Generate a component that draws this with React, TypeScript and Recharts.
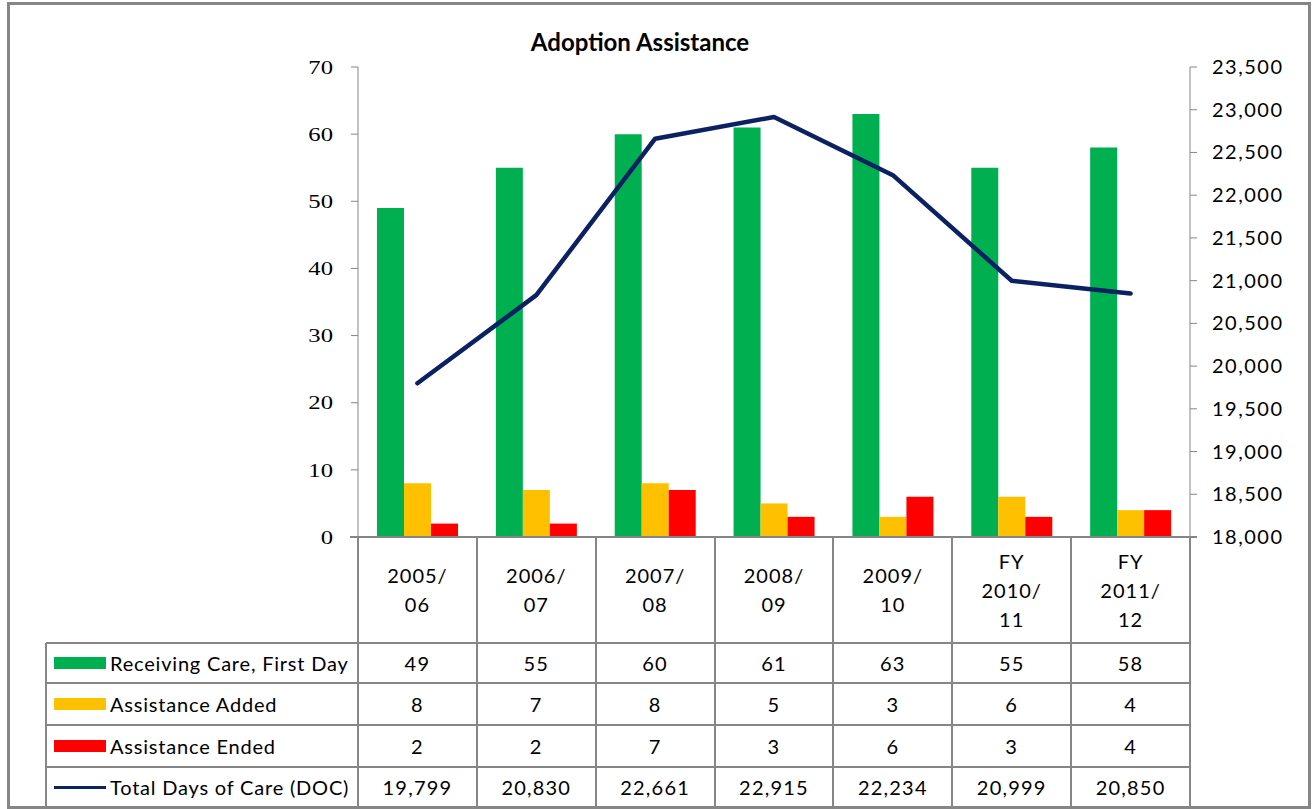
import { ComposedChart, Bar, Line, XAxis, YAxis } from 'recharts';

const categories = ['2005/\n06', '2006/\n07', '2007/\n08', '2008/\n09', '2009/\n10', 'FY\n2010/\n11', 'FY\n2011/\n12'];
const receivingCare = [49, 55, 60, 61, 63, 55, 58];
const assistanceAdded = [8, 7, 8, 5, 3, 6, 4];
const assistanceEnded = [2, 2, 7, 3, 6, 3, 4];
const totalDaysOfCare = [19799, 20830, 22661, 22915, 22234, 20999, 20850];
const leftTicks = [0, 10, 20, 30, 40, 50, 60, 70];
const rightTicks = [18000, 18500, 19000, 19500, 20000, 20500, 21000, 21500, 22000, 22500, 23000, 23500];

const GREEN = '#00B050';
const YELLOW = '#FFC000';
const RED = '#FF0000';
const NAVY = '#0C2161';
const GRID = '#868686';
const FONT = "Lato, 'Open Sans', sans-serif";

const data = categories.map((name, i) => ({
  name,
  care: receivingCare[i],
  added: assistanceAdded[i],
  ended: assistanceEnded[i],
  doc: totalDaysOfCare[i],
}));

const series = [
  { label: 'Receiving Care, First Day', color: GREEN, kind: 'bar', values: receivingCare },
  { label: 'Assistance Added', color: YELLOW, kind: 'bar', values: assistanceAdded },
  { label: 'Assistance Ended', color: RED, kind: 'bar', values: assistanceEnded },
  { label: 'Total Days of Care (DOC)', color: NAVY, kind: 'line', values: totalDaysOfCare },
];

// plot box
const PLOT_L = 358;
const PLOT_R = 1190;
const PLOT_T = 67;
const PLOT_B = 537;
const COL_W = (PLOT_R - PLOT_L) / categories.length;
const TABLE_L = 46;
const HEADER_B = 643;
const ROW_LINES = [643, 683, 725, 767, 807];

const fmt = (v: number) => v.toLocaleString('en-US');

const LeftTick = ({ x, y, payload }: any) => (
  <text
    transform={`translate(${x},${y}) scale(1.3,1)`}
    dy="0.35em"
    textAnchor="end"
    fontFamily="'Liberation Serif', serif"
    fontSize={19}
    fill="#000"
  >
    {payload.value}
  </text>
);

const RightTick = ({ x, y, payload }: any) => (
  <text x={x} y={y} dy="0.35em" textAnchor="start" fontFamily={FONT} fontSize={20} letterSpacing={1.5} fill="#000">
    {fmt(payload.value)}
  </text>
);

const hLine = (y: number, x1: number, x2: number, key: string) => (
  <div key={key} style={{ position: 'absolute', left: x1, top: y - 1, width: x2 - x1, height: 2, background: GRID }} />
);
const vLine = (x: number, y1: number, y2: number, key: string) => (
  <div key={key} style={{ position: 'absolute', left: x - 1, top: y1, width: 2, height: y2 - y1, background: GRID }} />
);

export default function App() {
  return (
    <div style={{ position: 'absolute', left: 0, top: 0, width: 1312, height: 809, background: '#fff', fontFamily: FONT }}>
      <ComposedChart
        width={1312}
        height={809}
        data={data}
        barGap={0}
        margin={{ top: PLOT_T, bottom: 809 - PLOT_B, left: PLOT_L - 60, right: 1312 - PLOT_R - 90 }}
      >
        <XAxis dataKey="name" hide />
        <YAxis
          yAxisId="left"
          width={60}
          domain={[0, 70]}
          ticks={leftTicks}
          interval={0}
          stroke={GRID}
          tickSize={7}
          tickMargin={18}
          tick={<LeftTick />}
        />
        <YAxis
          yAxisId="right"
          orientation="right"
          width={90}
          domain={[18000, 23500]}
          ticks={rightTicks}
          interval={0}
          stroke={GRID}
          tickSize={7}
          tickMargin={15}
          tick={<RightTick />}
        />
        <Bar yAxisId="left" dataKey="care" fill={GREEN} barSize={27} isAnimationActive={false} />
        <Bar yAxisId="left" dataKey="added" fill={YELLOW} barSize={27} isAnimationActive={false} />
        <Bar yAxisId="left" dataKey="ended" fill={RED} barSize={27} isAnimationActive={false} />
        <Line
          yAxisId="right"
          dataKey="doc"
          type="linear"
          stroke={NAVY}
          strokeWidth={4.5}
          strokeLinejoin="round"
          strokeLinecap="round"
          dot={false}
          isAnimationActive={false}
        />
      </ComposedChart>

      <div
        style={{
          position: 'absolute',
          left: 440,
          width: 400,
          top: 27,
          textAlign: 'center',
          fontSize: 24,
          fontWeight: 700,
          lineHeight: '30px',
        }}
      >
        Adoption Assistance
      </div>

      {/* data table */}
      {hLine(PLOT_B, PLOT_L - 8, PLOT_R + 7, 'base')}
      {ROW_LINES.slice(0, 4).map((y, i) => hLine(y, TABLE_L, PLOT_R, `r${i}`))}
      {vLine(TABLE_L, HEADER_B, 807, 'vl')}
      {Array.from({ length: categories.length + 1 }, (_, i) => vLine(PLOT_L + i * COL_W, PLOT_B, 807, `v${i}`))}

      {categories.map((c, i) => (
        <div
          key={`h${i}`}
          style={{
            position: 'absolute',
            left: PLOT_L + i * COL_W,
            width: COL_W,
            top: PLOT_B,
            height: HEADER_B - PLOT_B,
            display: 'flex',
            alignItems: 'center',
            justifyContent: 'center',
            textAlign: 'center',
            whiteSpace: 'pre',
            fontSize: 20,
            lineHeight: '29px',
            letterSpacing: 1,
          }}
        >
          {c}
        </div>
      ))}

      {series.map((s, r) => {
        const top = ROW_LINES[r];
        const h = ROW_LINES[r + 1] - top;
        return (
          <div key={`row${r}`}>
            <div
              style={{
                position: 'absolute',
                left: 54,
                top: top + h / 2 - (s.kind === 'bar' ? 6 : 1.5),
                width: 52,
                height: s.kind === 'bar' ? 12 : 3,
                background: s.color,
              }}
            />
            <div
              style={{
                position: 'absolute',
                left: 110,
                top,
                height: h,
                display: 'flex',
                alignItems: 'center',
                fontSize: 20,
                letterSpacing: 0.8,
                whiteSpace: 'nowrap',
              }}
            >
              {s.label}
            </div>
            {s.values.map((v, i) => (
              <div
                key={`c${r}-${i}`}
                style={{
                  position: 'absolute',
                  left: PLOT_L + i * COL_W,
                  width: COL_W,
                  top,
                  height: h,
                  display: 'flex',
                  alignItems: 'center',
                  justifyContent: 'center',
                  fontSize: 20,
                  letterSpacing: 1.2,
                }}
              >
                {fmt(v)}
              </div>
            ))}
          </div>
        );
      })}

      {/* chart frame */}
      <div
        style={{
          position: 'absolute',
          left: 7,
          top: 2,
          width: 1304,
          height: 807,
          boxSizing: 'border-box',
          border: `3px solid ${GRID}`,
          pointerEvents: 'none',
        }}
      />
    </div>
  );
}
